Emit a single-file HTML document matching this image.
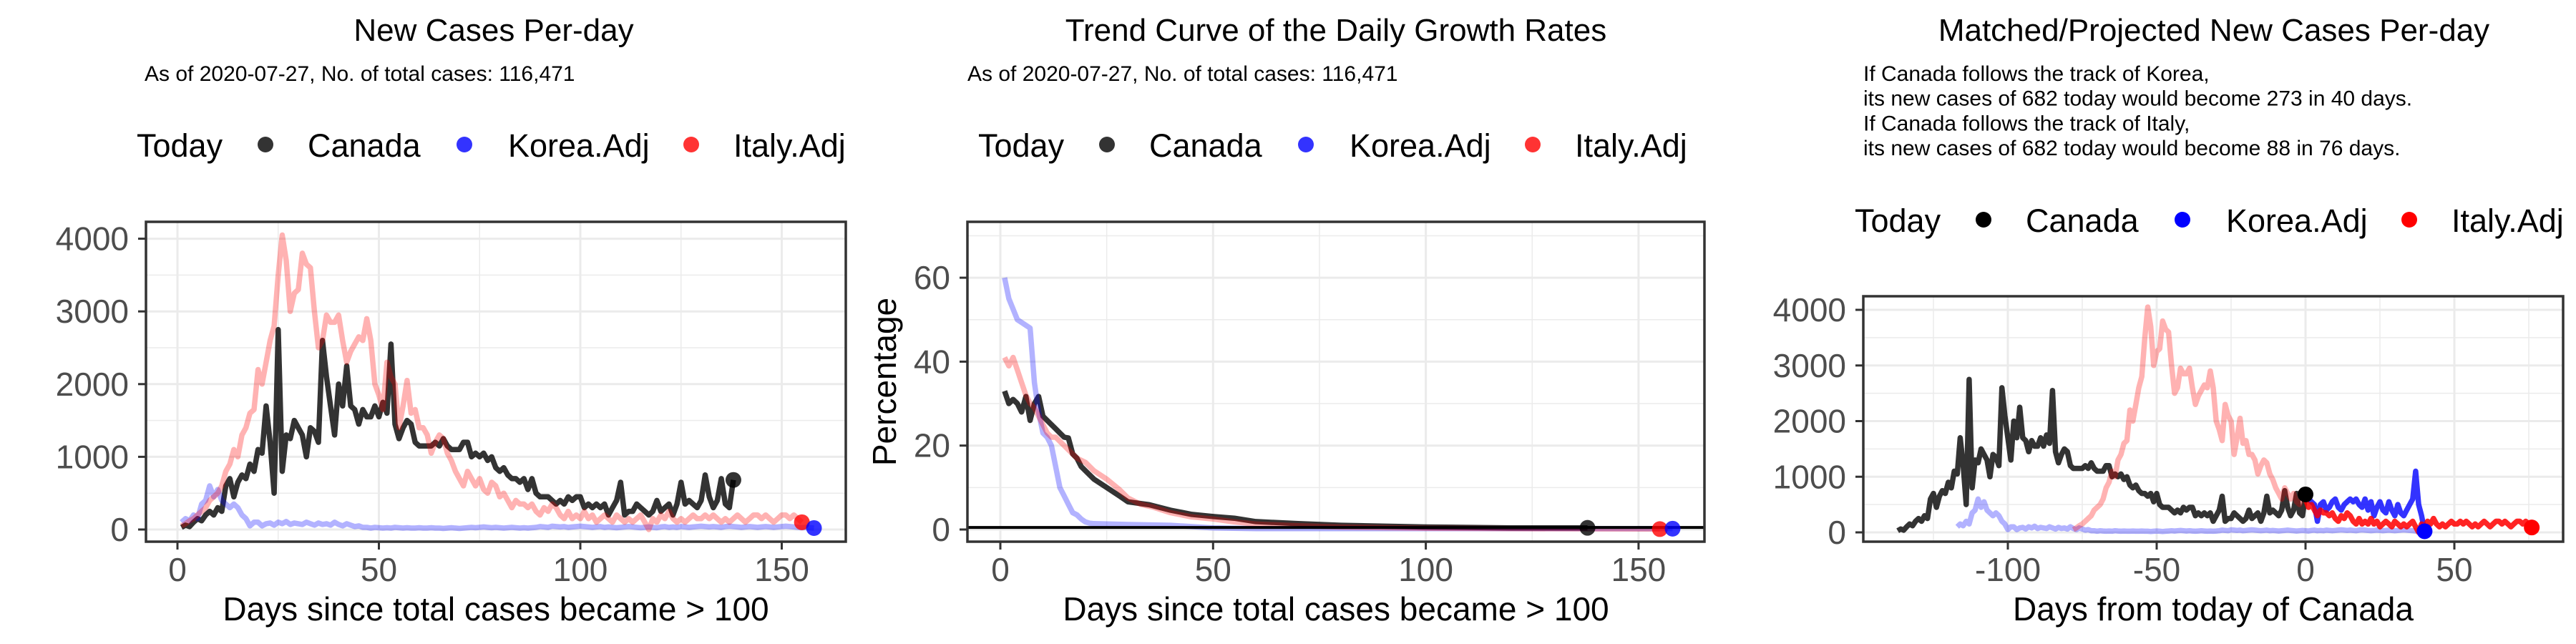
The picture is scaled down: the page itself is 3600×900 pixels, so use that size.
<!DOCTYPE html>
<html><head><meta charset="utf-8"><style>
html,body{margin:0;padding:0;background:#fff;}
svg{display:block;font-family:"Liberation Sans",Arial,sans-serif;}
</style></head><body>
<svg id="chart" width="3600" height="900" viewBox="0 0 3600 900" xmlns="http://www.w3.org/2000/svg"></svg>
<script>
// ---- data ----
const canadaCases = [30,60,40,100,150,120,200,250,200,300,250,600,700,450,650,750,700,900,800,1100,1050,1700,1200,500,2750,800,1300,1250,1500,1400,1300,1000,1400,1350,1200,2600,2100,1700,1300,2000,1700,2250,1700,1650,1450,1650,1550,1550,1700,1550,1750,1600,2550,1450,1250,1400,1500,1450,1200,1150,1150,1150,1150,1200,1150,1250,1150,1100,1100,1100,1200,1200,1000,1050,1000,1050,950,1000,850,800,850,750,700,700,650,700,550,700,500,450,450,450,400,350,400,350,450,400,450,450,300,350,300,350,300,350,200,300,400,650,200,250,250,350,300,250,200,250,400,250,300,350,200,350,650,350,400,350,300,400,750,450,300,400,700,350,300,682];
const italyCases = [50,80,120,150,200,250,300,400,450,500,600,800,900,1100,1000,1300,1400,1600,1650,2200,2000,2300,2600,2800,3500,4050,3700,3000,3250,3300,3800,3650,3600,3000,2500,2600,2950,2850,2850,2950,2600,2300,2450,2550,2650,2600,2900,2600,2000,1850,1650,2300,2100,2000,1400,1700,2050,1600,1650,1400,1400,1300,1050,1200,1300,1250,1050,950,800,700,600,800,700,600,700,550,500,650,600,450,500,400,300,400,350,350,300,350,250,200,300,250,350,300,200,150,250,150,200,150,250,150,200,100,150,200,150,100,200,150,100,150,100,150,200,100,0,150,100,200,150,250,150,100,150,100,150,200,150,150,200,150,200,150,100,150,100,150,200,150,100,150,200,200,150,200,150,100,150,200,200,150,200,150,100];
const koreaCases = [100,150,120,200,150,350,400,600,450,550,400,350,300,350,300,200,150,50,100,100,50,80,90,60,100,80,110,70,90,80,70,100,80,60,90,70,80,60,100,70,50,80,60,40,50,30,30,20,30,25,20,25,20,30,25,20,25,20,20,25,20,20,25,20,20,15,20,25,20,15,20,25,30,25,30,35,30,25,30,25,20,25,30,25,20,25,20,25,30,40,35,30,45,40,35,40,30,35,40,45,40,35,30,35,40,30,35,30,25,30,35,40,35,30,25,30,35,30,25,35,40,30,35,30,40,35,30,35,40,45,40,35,40,35,30,40,45,40,35,30,35,40,35,30,35,40,35,30,35,40,45,40,35,30,25,30,25,20];
const koreaProj = [650,600,550,500,200,500,550,400,450,550,600,450,400,500,550,600,550,600,500,450,600,400,550,300,450,550,400,350,550,400,300,500,350,300,400,500,600,1100,500,300,20];
const canadaRateDays = [1,2,3,4,5,6,7,8,9,10,11,12,13,14,15,16,17,18,19,20,22,25,28,30,35,40,45,50,55,60,70,80,100,120,138];
const canadaRate = [33,30,31,30,28,31.7,26,30,31.7,27,26,25,24,23,22,21.8,18,17,15,14,12,10,8,6.6,5.9,4.6,3.6,3.1,2.7,1.9,1.4,1,0.6,0.4,0.4];
const koreaRateDays = [1,2,4,7,8,9,10,11,12,13,14,15,16,17,18,19,20,21,22,30,40,50,60,80,100,130,158];
const koreaRate = [60,55,50,48,35,28,23,22,20,15,10,8,6,4,3.5,2.5,1.8,1.5,1.4,1.2,1,0.4,0.2,0.2,0.2,0.2,0.2];
const italyRateDays = [1,2,3,4,5,6,7,8,9,10,11,12,13,14,15,16,17,18,20,22,25,28,30,33,36,40,45,50,55,60,70,80,100,120,155];
const italyRate = [41,39,41,38,35,32,30,29,27,25,23,22,22,21,20,19,18,17,16,14,12,9.5,7.5,6,5.3,4,3,2.5,1.8,1.3,0.9,0.6,0.3,0.2,0.1];
const casesYTicks = [0,1000,2000,3000,4000];
const casesXTicks = [0,50,100,150];
const rateYTicks = [0,20,40,60];
const projXTicks = [-100,-50,0,50];
const canadaShift = -138, italyShift = -79, koreaShift = -118;
const todayCanada = 682;

const NS='http://www.w3.org/2000/svg';
const svg=document.getElementById('chart');
function mk(tag,attrs,parent){const e=document.createElementNS(NS,tag);for(const k in attrs)e.setAttribute(k,attrs[k]);(parent||svg).appendChild(e);return e;}
function txt(s,x,y,size,fill,anchor,parent){const t=mk('text',{x:x,y:y,'font-size':size,fill:fill,'text-anchor':anchor||'start'},parent);t.textContent=s;return t;}

function panel(cfg){
  const g=mk('g',{});
  
  
  const X=v=>cfg.x0+v*cfg.sx, Y=v=>cfg.y0-v*cfg.sy;
  const L=cfg.box[0],T=cfg.box[1],R=cfg.box[2],B=cfg.box[3];
  cfg.xMinor.forEach(v=>{const l=mk('line',{x1:X(v),x2:X(v),y1:T,y2:B,stroke:'#ebebeb','stroke-width':1.5},g);});
  cfg.yMinor.forEach(v=>{const l=mk('line',{x1:L,x2:R,y1:Y(v),y2:Y(v),stroke:'#ebebeb','stroke-width':1.5},g);});
  cfg.xTicks.forEach(v=>{const l=mk('line',{x1:X(v),x2:X(v),y1:T,y2:B,stroke:'#ebebeb','stroke-width':3},g);});
  cfg.yTicks.forEach(v=>{const l=mk('line',{x1:L,x2:R,y1:Y(v),y2:Y(v),stroke:'#ebebeb','stroke-width':3},g);});
  const clip=mk('clipPath',{id:'c'+cfg.name},g);mk('rect',{x:L,y:T,width:R-L,height:B-T},clip);
  const data=mk('g',{'clip-path':'url(#c'+cfg.name+')'},g);
  
  
  cfg.series.forEach(s=>{
    const pts=s.xs.map((d,i)=>X(d).toFixed(1)+','+Y(s.ys[i]).toFixed(1)).join(' ');
    const p=mk('polyline',{points:pts,fill:'none',stroke:s.color,'stroke-opacity':s.op,'stroke-width':7.5,'stroke-linejoin':'round'},data);
    
    
  });
  if(cfg.hline!==undefined){const l=mk('line',{x1:L,x2:R,y1:Y(cfg.hline),y2:Y(cfg.hline),stroke:'#000','stroke-width':4},data);}
  cfg.dots.forEach(d=>{const c=mk('circle',{cx:X(d.x),cy:Y(d.y),r:11,fill:d.color,'fill-opacity':d.op},data);});
  const box=mk('rect',{x:L,y:T,width:R-L,height:B-T,fill:'none',stroke:'#333','stroke-width':3.5},g);
  
  
  cfg.yTicks.forEach(v=>{
    const l=mk('line',{x1:L-11,x2:L,y1:Y(v),y2:Y(v),stroke:'#333','stroke-width':3},g);
    
    
    const t=txt(String(v),L-24,Y(v)+16,46,'#4d4d4d','end',g);
    
    
  });
  cfg.xTicks.forEach(v=>{
    const l=mk('line',{x1:X(v),x2:X(v),y1:B,y2:B+11,stroke:'#333','stroke-width':3},g);
    
    
    const t=txt(String(v),X(v),812,46,'#4d4d4d','middle',g);
    
    
  });
  const xt=txt(cfg.xTitle,(L+R)/2,867,46,'#000','middle',g);
  
  
  if(cfg.yTitle){
    const yt=txt(cfg.yTitle,0,0,46,'#000','middle',g);
    yt.setAttribute('transform','translate('+cfg.yTitleX+','+((T+B)/2)+') rotate(-90)');
    
    
  }
  const ti=txt(cfg.title,cfg.titleX,57,44,'#000','middle',g);
  
  
  cfg.notes.forEach((n,i)=>{const t=txt(n,cfg.noteX,113+i*34.7,30,'#000','start',g);});
  const lg=mk('g',{},g);
  
  
  const lt=txt('Today',cfg.leg.x,cfg.leg.y,45,'#000','start',lg);
  
  
  const labs=['Canada','Korea.Adj','Italy.Adj'], cols=['#000','blue','red'];
  const dx=[180,458,775], tx=[239,519,834];
  labs.forEach((s,i)=>{
    const c=mk('circle',{cx:cfg.leg.x+dx[i],cy:cfg.leg.y-17,r:11,fill:cols[i],'fill-opacity':cfg.leg.op},lg);
    
    
    const t=txt(s,cfg.leg.x+tx[i],cfg.leg.y,45,'#000','start',lg);
    
    
  });
}
const idx=a=>a.map((_,i)=>i+1);
const sub='As of 2020-07-27, No. of total cases: 116,471';

panel({name:'new-cases-panel',x0:248,sx:5.63,y0:740,sy:0.1016,box:[204,310,1182,757],
  xTicks:casesXTicks,yTicks:casesYTicks,xMinor:[25,75,125],yMinor:[500,1500,2500,3500],
  series:[{name:'canada-line',xs:idx(canadaCases),ys:canadaCases,color:'#000',op:0.8},
          {name:'korea-line',xs:idx(koreaCases),ys:koreaCases,color:'blue',op:0.3},
          {name:'italy-line',xs:idx(italyCases),ys:italyCases,color:'red',op:0.3}],
  dots:[{name:'canada-today-dot',x:canadaCases.length,y:canadaCases[canadaCases.length-1],color:'#000',op:0.8},
        {name:'italy-today-dot',x:italyCases.length,y:italyCases[italyCases.length-1],color:'red',op:0.8},
        {name:'korea-today-dot',x:koreaCases.length,y:koreaCases[koreaCases.length-1],color:'blue',op:0.8}],
  xTitle:'Days since total cases became > 100',title:'New Cases Per-day',titleX:690,noteX:202,notes:[sub],
  leg:{x:191,y:219,op:0.8}});

panel({name:'growth-rate-panel',x0:1398,sx:5.946,y0:740,sy:5.865,box:[1352,310,2382,757],
  xTicks:casesXTicks,yTicks:rateYTicks,xMinor:[25,75,125],yMinor:[10,30,50,70],
  series:[{name:'canada-rate-line',xs:canadaRateDays,ys:canadaRate,color:'#000',op:0.8},
          {name:'korea-rate-line',xs:koreaRateDays,ys:koreaRate,color:'blue',op:0.3},
          {name:'italy-rate-line',xs:italyRateDays,ys:italyRate,color:'red',op:0.3}],
  hline:0.5,
  dots:[{name:'canada-today-dot',x:138,y:0.4,color:'#000',op:0.8},
        {name:'italy-today-dot',x:155,y:0.1,color:'red',op:0.8},
        {name:'korea-today-dot',x:158,y:0.2,color:'blue',op:0.8}],
  xTitle:'Days since total cases became > 100',yTitle:'Percentage',yTitleX:1252,
  title:'Trend Curve of the Daily Growth Rates',titleX:1867,noteX:1352,notes:[sub],
  leg:{x:1367,y:219,op:0.8}});

const itX=idx(italyCases).map(d=>d+italyShift);
const itFutX=itX.filter(d=>d>=0), itFutY=italyCases.slice(itX.length-itFutX.length);
panel({name:'projection-panel',x0:3222,sx:4.16,y0:744,sy:0.07775,box:[2604,414,3582,757],
  xTicks:projXTicks,yTicks:casesYTicks,xMinor:[-125,-75,-25,25,75],yMinor:[500,1500,2500,3500],
  series:[{name:'canada-line',xs:idx(canadaCases).map(d=>d+canadaShift),ys:canadaCases,color:'#000',op:0.8},
          {name:'korea-past-line',xs:idx(koreaCases).map(d=>d+koreaShift),ys:koreaCases,color:'blue',op:0.3},
          {name:'italy-past-line',xs:itX,ys:italyCases,color:'red',op:0.3},
          {name:'korea-projected-line',xs:koreaProj.map((_,i)=>i),ys:koreaProj,color:'blue',op:0.8},
          {name:'italy-projected-line',xs:itFutX,ys:itFutY,color:'red',op:0.8}],
  dots:[{name:'canada-today-dot',x:0,y:todayCanada,color:'#000',op:1},
        {name:'korea-projected-dot',x:koreaProj.length-1,y:koreaProj[koreaProj.length-1],color:'blue',op:1},
        {name:'italy-projected-dot',x:itFutX[itFutX.length-1],y:88,color:'red',op:1}],
  xTitle:'Days from today of Canada',title:'Matched/Projected New Cases Per-day',titleX:3094,noteX:2604,
  notes:['If Canada follows the track of Korea,','its new cases of 682 today would become 273 in 40 days.','If Canada follows the track of Italy,','its new cases of 682 today would become 88 in 76 days.'],
  leg:{x:2592,y:324,op:1}});
</script>
</body></html>
